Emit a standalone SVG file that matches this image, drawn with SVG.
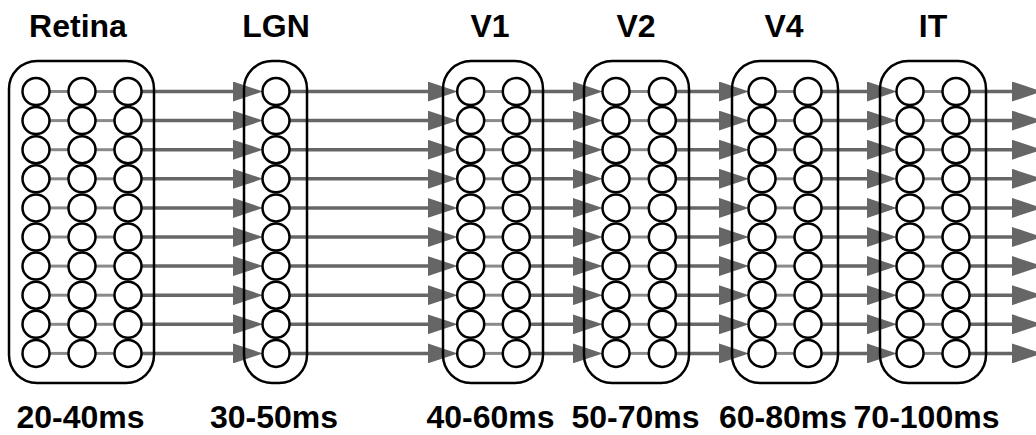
<svg xmlns="http://www.w3.org/2000/svg" xmlns:xlink="http://www.w3.org/1999/xlink" width="1036" height="435" viewBox="0 0 1036 435">
<style>
.box{fill:none;stroke:#000;stroke-width:2.5}
.cell{fill:#fff;stroke:#000;stroke-width:2.5}
.link{stroke:#8a8a8a;stroke-width:3}
.conn{stroke:#666;stroke-width:3.5;marker-end:url(#arrow)}
.title{font-family:"Liberation Sans",Arial,sans-serif;font-weight:bold;font-size:32px;text-anchor:middle;fill:#000}
</style>
<defs>
<marker id="arrow" markerUnits="userSpaceOnUse" markerWidth="30" markerHeight="20" refX="5" refY="10" orient="auto" viewBox="0 0 30 20">
<path d="M0,0 L30,10 L0,20 Z" fill="#666"/>
</marker>
<g id="col">
<circle class="cell" cx="0" cy="91.5" r="13.5"/>
<circle class="cell" cx="0" cy="120.6" r="13.5"/>
<circle class="cell" cx="0" cy="149.7" r="13.5"/>
<circle class="cell" cx="0" cy="178.8" r="13.5"/>
<circle class="cell" cx="0" cy="207.9" r="13.5"/>
<circle class="cell" cx="0" cy="237" r="13.5"/>
<circle class="cell" cx="0" cy="266.1" r="13.5"/>
<circle class="cell" cx="0" cy="295.2" r="13.5"/>
<circle class="cell" cx="0" cy="324.3" r="13.5"/>
<circle class="cell" cx="0" cy="353.4" r="13.5"/>
</g>
<g id="links">
<line class="link" x1="13" y1="91.5" x2="33" y2="91.5"/>
<line class="link" x1="13" y1="120.6" x2="33" y2="120.6"/>
<line class="link" x1="13" y1="149.7" x2="33" y2="149.7"/>
<line class="link" x1="13" y1="178.8" x2="33" y2="178.8"/>
<line class="link" x1="13" y1="207.9" x2="33" y2="207.9"/>
<line class="link" x1="13" y1="237" x2="33" y2="237"/>
<line class="link" x1="13" y1="266.1" x2="33" y2="266.1"/>
<line class="link" x1="13" y1="295.2" x2="33" y2="295.2"/>
<line class="link" x1="13" y1="324.3" x2="33" y2="324.3"/>
<line class="link" x1="13" y1="353.4" x2="33" y2="353.4"/>
</g>
</defs>
<rect width="1036" height="435" fill="#fff"/>

<g id="connectors">
<g id="retina-lgn">
<line class="conn" x1="141" y1="91.5" x2="238" y2="91.5"/>
<line class="conn" x1="141" y1="120.6" x2="238" y2="120.6"/>
<line class="conn" x1="141" y1="149.7" x2="238" y2="149.7"/>
<line class="conn" x1="141" y1="178.8" x2="238" y2="178.8"/>
<line class="conn" x1="141" y1="207.9" x2="238" y2="207.9"/>
<line class="conn" x1="141" y1="237" x2="238" y2="237"/>
<line class="conn" x1="141" y1="266.1" x2="238" y2="266.1"/>
<line class="conn" x1="141" y1="295.2" x2="238" y2="295.2"/>
<line class="conn" x1="141" y1="324.3" x2="238" y2="324.3"/>
<line class="conn" x1="141" y1="353.4" x2="238" y2="353.4"/>
</g>
<g id="lgn-v1">
<line class="conn" x1="289" y1="91.5" x2="432.7" y2="91.5"/>
<line class="conn" x1="289" y1="120.6" x2="432.7" y2="120.6"/>
<line class="conn" x1="289" y1="149.7" x2="432.7" y2="149.7"/>
<line class="conn" x1="289" y1="178.8" x2="432.7" y2="178.8"/>
<line class="conn" x1="289" y1="207.9" x2="432.7" y2="207.9"/>
<line class="conn" x1="289" y1="237" x2="432.7" y2="237"/>
<line class="conn" x1="289" y1="266.1" x2="432.7" y2="266.1"/>
<line class="conn" x1="289" y1="295.2" x2="432.7" y2="295.2"/>
<line class="conn" x1="289" y1="324.3" x2="432.7" y2="324.3"/>
<line class="conn" x1="289" y1="353.4" x2="432.7" y2="353.4"/>
</g>
<g id="v1-v2">
<line class="conn" x1="529" y1="91.5" x2="577.7" y2="91.5"/>
<line class="conn" x1="529" y1="120.6" x2="577.7" y2="120.6"/>
<line class="conn" x1="529" y1="149.7" x2="577.7" y2="149.7"/>
<line class="conn" x1="529" y1="178.8" x2="577.7" y2="178.8"/>
<line class="conn" x1="529" y1="207.9" x2="577.7" y2="207.9"/>
<line class="conn" x1="529" y1="237" x2="577.7" y2="237"/>
<line class="conn" x1="529" y1="266.1" x2="577.7" y2="266.1"/>
<line class="conn" x1="529" y1="295.2" x2="577.7" y2="295.2"/>
<line class="conn" x1="529" y1="324.3" x2="577.7" y2="324.3"/>
<line class="conn" x1="529" y1="353.4" x2="577.7" y2="353.4"/>
</g>
<g id="v2-v4">
<line class="conn" x1="675.3" y1="91.5" x2="724" y2="91.5"/>
<line class="conn" x1="675.3" y1="120.6" x2="724" y2="120.6"/>
<line class="conn" x1="675.3" y1="149.7" x2="724" y2="149.7"/>
<line class="conn" x1="675.3" y1="178.8" x2="724" y2="178.8"/>
<line class="conn" x1="675.3" y1="207.9" x2="724" y2="207.9"/>
<line class="conn" x1="675.3" y1="237" x2="724" y2="237"/>
<line class="conn" x1="675.3" y1="266.1" x2="724" y2="266.1"/>
<line class="conn" x1="675.3" y1="295.2" x2="724" y2="295.2"/>
<line class="conn" x1="675.3" y1="324.3" x2="724" y2="324.3"/>
<line class="conn" x1="675.3" y1="353.4" x2="724" y2="353.4"/>
</g>
<g id="v4-it">
<line class="conn" x1="821" y1="91.5" x2="872" y2="91.5"/>
<line class="conn" x1="821" y1="120.6" x2="872" y2="120.6"/>
<line class="conn" x1="821" y1="149.7" x2="872" y2="149.7"/>
<line class="conn" x1="821" y1="178.8" x2="872" y2="178.8"/>
<line class="conn" x1="821" y1="207.9" x2="872" y2="207.9"/>
<line class="conn" x1="821" y1="237" x2="872" y2="237"/>
<line class="conn" x1="821" y1="266.1" x2="872" y2="266.1"/>
<line class="conn" x1="821" y1="295.2" x2="872" y2="295.2"/>
<line class="conn" x1="821" y1="324.3" x2="872" y2="324.3"/>
<line class="conn" x1="821" y1="353.4" x2="872" y2="353.4"/>
</g>
<g id="it-out">
<line class="conn" x1="969" y1="91.5" x2="1017" y2="91.5"/>
<line class="conn" x1="969" y1="120.6" x2="1017" y2="120.6"/>
<line class="conn" x1="969" y1="149.7" x2="1017" y2="149.7"/>
<line class="conn" x1="969" y1="178.8" x2="1017" y2="178.8"/>
<line class="conn" x1="969" y1="207.9" x2="1017" y2="207.9"/>
<line class="conn" x1="969" y1="237" x2="1017" y2="237"/>
<line class="conn" x1="969" y1="266.1" x2="1017" y2="266.1"/>
<line class="conn" x1="969" y1="295.2" x2="1017" y2="295.2"/>
<line class="conn" x1="969" y1="324.3" x2="1017" y2="324.3"/>
<line class="conn" x1="969" y1="353.4" x2="1017" y2="353.4"/>
</g>
</g>

<g id="retina">
<text class="title" x="78" y="37">Retina</text>
<rect class="box" x="9" y="61" width="145" height="322" rx="28"/>
<use xlink:href="#links" x="36"/>
<use xlink:href="#links" x="82"/>
<use xlink:href="#col" x="36"/>
<use xlink:href="#col" x="82"/>
<use xlink:href="#col" x="128"/>
<text class="title" x="80.5" y="427.5">20-40ms</text>
</g>

<g id="lgn">
<text class="title" x="276" y="37">LGN</text>
<rect class="box" x="244" y="61" width="63" height="322" rx="28"/>
<use xlink:href="#col" x="276"/>
<text class="title" x="274" y="427.5">30-50ms</text>
</g>

<g id="v1">
<text class="title" x="490" y="37">V1</text>
<rect class="box" x="443" y="61" width="100" height="322" rx="28"/>
<use xlink:href="#links" x="470.7"/>
<use xlink:href="#col" x="470.7"/>
<use xlink:href="#col" x="516.3"/>
<text class="title" x="490.5" y="427.5">40-60ms</text>
</g>

<g id="v2">
<text class="title" x="636" y="37">V2</text>
<rect class="box" x="584" y="61" width="105" height="322" rx="28"/>
<use xlink:href="#links" x="616"/>
<use xlink:href="#col" x="616"/>
<use xlink:href="#col" x="662.3"/>
<text class="title" x="635.5" y="427.5">50-70ms</text>
</g>

<g id="v4">
<text class="title" x="784" y="37">V4</text>
<rect class="box" x="732" y="61" width="106" height="322" rx="28"/>
<use xlink:href="#links" x="762"/>
<use xlink:href="#col" x="762"/>
<use xlink:href="#col" x="808"/>
<text class="title" x="783" y="427.5">60-80ms</text>
</g>

<g id="it">
<text class="title" x="933" y="37">IT</text>
<rect class="box" x="880" y="61" width="106" height="322" rx="28"/>
<use xlink:href="#links" x="910"/>
<use xlink:href="#col" x="910"/>
<use xlink:href="#col" x="956"/>
<text class="title" x="926.5" y="427.5">70-100ms</text>
</g>
</svg>
